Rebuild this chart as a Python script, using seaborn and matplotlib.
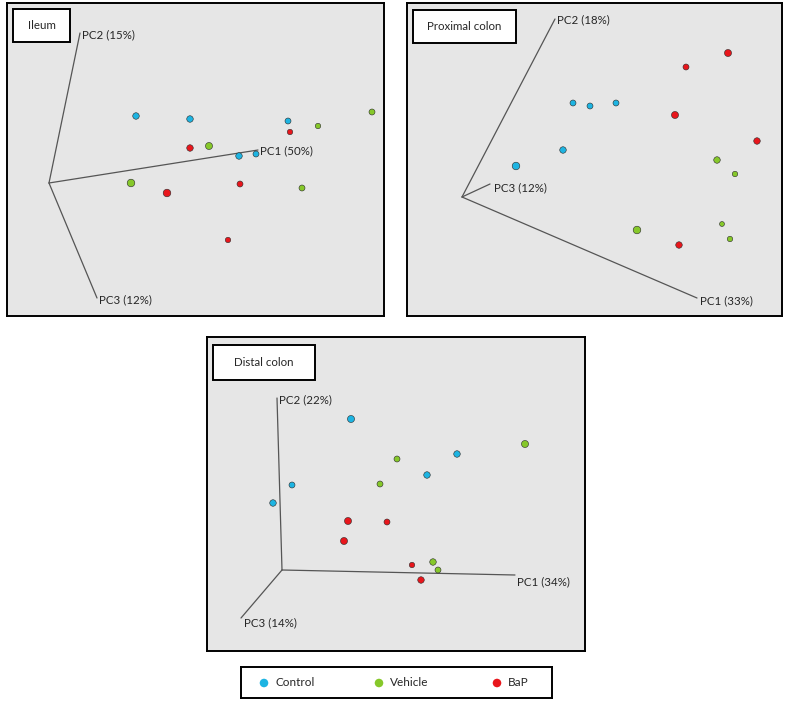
import pandas as pd
import matplotlib.pyplot as plt
import seaborn as sns

sns.set_theme(style="white")
plt.rcParams['font.family'] = ['Lato', 'DejaVu Sans']
plt.rcParams['font.size'] = 8

W, H = 787, 703

GROUPS = ["Control", "Vehicle", "BaP"]
COLORS = {"Control": "#1db4e2", "Vehicle": "#86c82a", "BaP": "#e8161c"}

# projected ordination coordinates (image pixel space)
ileum_x = [136, 190, 288, 239, 256, 372, 318, 209, 131, 302, 290, 190, 167, 240, 228]
ileum_y = [116, 119, 121, 156, 154, 112, 126, 146, 183, 188, 132, 148, 193, 184, 240]
ileum_d = [6, 6, 5.5, 6, 5.5, 5.5, 5, 6.5, 7, 5.5, 5, 6, 7, 5.5, 5]

prox_x = [573, 590, 616, 563, 516, 717, 735, 637, 722, 730, 728, 686, 675, 757, 679]
prox_y = [103, 106, 103, 150, 166, 160, 174, 230, 224, 239, 53, 67, 115, 141, 245]
prox_d = [5.5, 5.5, 5.5, 6, 7, 6, 5, 7, 4.5, 5, 6.5, 5.5, 6.5, 6, 6]

dist_x = [351, 457, 427, 292, 273, 525, 397, 380, 433, 438, 348, 387, 344, 412, 421]
dist_y = [419, 454, 475, 485, 503, 444, 459, 484, 562, 570, 521, 522, 541, 565, 580]
dist_d = [6.5, 6, 6, 5.5, 6, 6.5, 5.5, 5.5, 6, 5.5, 6.5, 5.5, 6.5, 5, 6]

group_of_point = ["Control"] * 5 + ["Vehicle"] * 5 + ["BaP"] * 5

# panel frames (x0, y0, x1, y1) and PC axes (origin, then PC1, PC2, PC3 tips)
panels = [
    dict(name="Ileum", frame=(7, 3, 384, 316), title_box=(13, 9, 70, 42),
         x=ileum_x, y=ileum_y, d=ileum_d,
         origin=(49, 183),
         axes=[((258, 150), "PC1 (50%)", (260, 151)),
               ((80, 33), "PC2 (15%)", (82, 35)),
               ((97, 298), "PC3 (12%)", (99, 300))]),
    dict(name="Proximal colon", frame=(407, 3, 782, 316), title_box=(413, 10, 516, 43),
         x=prox_x, y=prox_y, d=prox_d,
         origin=(462, 197),
         axes=[((697, 298), "PC1 (33%)", (700, 301)),
               ((555, 19), "PC2 (18%)", (557, 20)),
               ((490, 184), "PC3 (12%)", (494, 188))]),
    dict(name="Distal colon", frame=(207, 337, 585, 651), title_box=(213, 345, 315, 380),
         x=dist_x, y=dist_y, d=dist_d,
         origin=(282, 570),
         axes=[((515, 575), "PC1 (34%)", (517, 582)),
               ((277, 398), "PC2 (22%)", (279, 400)),
               ((241, 618), "PC3 (14%)", (244, 623))]),
]


def add_px_axes(fig, x0, y0, x1, y1):
    ax = fig.add_axes([x0 / W, 1 - y1 / H, (x1 - x0) / W, (y1 - y0) / H])
    ax.set_xlim(x0, x1)
    ax.set_ylim(y1, y0)
    ax.set_xticks([])
    ax.set_yticks([])
    for s in ax.spines.values():
        s.set_visible(True)
        s.set_color("black")
        s.set_linewidth(1.4)
    return ax


fig = plt.figure(figsize=(W / 100, H / 100), dpi=100)
fig.patch.set_facecolor("white")

for p in panels:
    ax = add_px_axes(fig, *p["frame"])
    ax.set_facecolor("#e6e6e6")

    ox, oy = p["origin"]
    for tip, label, lpos in p["axes"]:
        ax.plot([ox, tip[0]], [oy, tip[1]], color="#555555", lw=0.9, zorder=1)
        ax.text(lpos[0], lpos[1], label, ha="left", va="center", fontsize=8.3, color="#262626")

    df = pd.DataFrame({"x": p["x"], "y": p["y"], "group": group_of_point,
                       "s": [(d * 0.78) ** 2 for d in p["d"]]})
    for g in GROUPS:
        sub = df[df["group"] == g]
        sns.scatterplot(x="x", y="y", data=sub, s=sub["s"].values, color=COLORS[g],
                        edgecolor="#2a2a2a", linewidth=0.4, ax=ax, zorder=3, legend=False)
    ax.set_xlabel("")
    ax.set_ylabel("")
    ax.set_xlim(p["frame"][0], p["frame"][2])
    ax.set_ylim(p["frame"][3], p["frame"][1])

    bx0, by0, bx1, by1 = p["title_box"]
    ax.add_patch(plt.Rectangle((bx0, by0), bx1 - bx0, by1 - by0, facecolor="white",
                               edgecolor="black", lw=1.4, zorder=4))
    ax.text((bx0 + bx1) / 2, (by0 + by1) / 2, p["name"], ha="center", va="center",
            fontsize=8.3, color="#262626", zorder=5)

# legend box
leg_ax = add_px_axes(fig, 241, 667, 552, 698)
leg_ax.set_facecolor("white")
leg_x = [264, 379, 497]
leg_df = pd.DataFrame({"x": leg_x, "y": [683] * 3, "group": GROUPS})
sns.scatterplot(x="x", y="y", data=leg_df, hue="group", palette=COLORS, s=38,
                edgecolor="none", ax=leg_ax, legend=False)
for xx, g in zip(leg_x, GROUPS):
    leg_ax.text(xx + 11, 683, g, ha="left", va="center", fontsize=8.5, color="#262626")
leg_ax.set_xlabel("")
leg_ax.set_ylabel("")
leg_ax.set_xlim(241, 552)
leg_ax.set_ylim(698, 667)

plt.savefig("out.png", dpi=100)
plt.close()
